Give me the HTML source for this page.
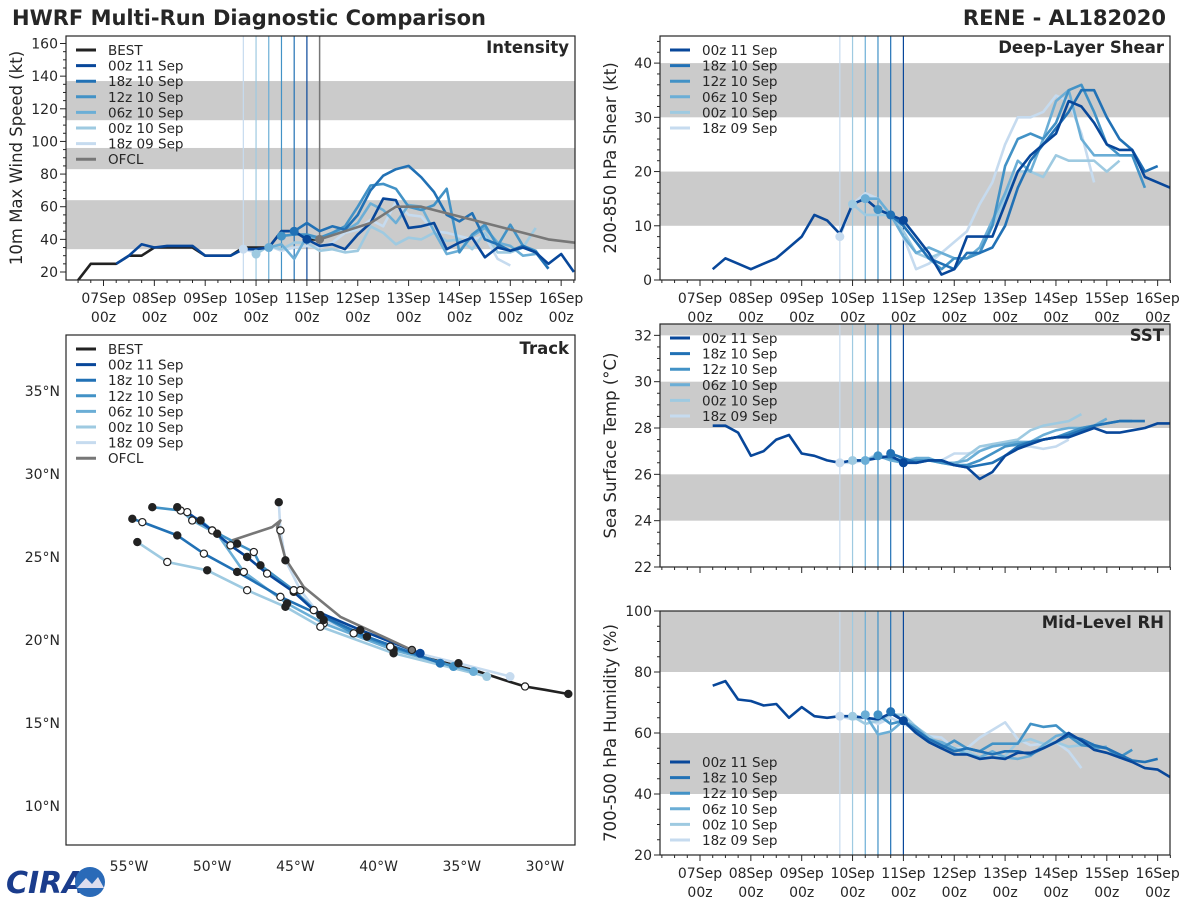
<!DOCTYPE html>
<html><head><meta charset="utf-8"><style>
body{margin:0;background:#fff;width:1200px;height:900px;overflow:hidden}
svg text{font-family:"DejaVu Sans","Liberation Sans",sans-serif;fill:#262626}
</style></head><body>
<svg id="c" width="1200" height="900" xmlns="http://www.w3.org/2000/svg">
<text x="12" y="25" font-size="21" font-weight="bold">HWRF Multi-Run Diagnostic Comparison</text>
<text x="1166" y="25" font-size="21" font-weight="bold" text-anchor="end">RENE - AL182020</text>
<g>
<text x="6" y="893" font-size="30" font-weight="bold" font-style="italic" style="fill:#1a3c8c">CIRA</text>
<circle cx="90" cy="882" r="15" fill="#2a6ab8"/>
<path d="M77 888 L86 878 L92 884 L98 877 L104 888 Z" fill="#dde"/>
</g>
</svg>
<script>
const svg=document.getElementById('c');
const NS='http://www.w3.org/2000/svg';
function mk(tag,at,parent){const e=document.createElementNS(NS,tag);for(const k in at)e.setAttribute(k,at[k]);(parent||svg).appendChild(e);return e;}

// ---------- data ----------
const runNames=['00z 11 Sep','18z 10 Sep','12z 10 Sep','06z 10 Sep','00z 10 Sep','18z 09 Sep'];
const runColors=['#08479a','#2171b5','#4292c6','#6baed6','#9ecae1','#c6dbef'];
const runInitHours=[96,90,84,78,72,66];
const xTickLabels=['07Sep','08Sep','09Sep','10Sep','11Sep','12Sep','13Sep','14Sep','15Sep','16Sep'];

// intensity (kt), 6-hourly from start hour
const bestStart=-12;
const bestVmax=[15,25,25,25,30,30,35,35,35,35,30,30,30,35,35,35,45,45,40,40];
const ofclHours=[102,114,126,138,150,162,174,186,198,210,222,234,246,258];
const ofclVmax=[40,45,50,60,60,56,52,48,44,40,38,36,35,34];
const intStart=[6,90,84,78,72,66];
const intVmax=[
[25,30,37,35,36,36,36,30,30,30,34,34,35,45,45,40,36,37,34,43,50,65,64,47,48,50,34,38,41,29,35,33,35,32,25,31,20],
[45,50,45,48,46,55,70,79,83,85,78,69,55,51,56,40,37,33,36,32,22],
[42,43,43,41,44,48,60,73,74,71,60,58,61,71,32,43,49,36,49,36,33,22],
[35,37,28,42,40,44,45,50,62,58,50,61,60,45,31,33,42,47,38,36,30,31],
[31,36,34,38,38,33,34,32,33,48,44,37,41,40,44,39,40,34,44,32,32,35,47],
[34,32,36,33,35,36,35,38,44,46,52,48,63,55,54,45,44,42,40,42,28,24]];

// shear (kt)
const shrStart=[6,90,84,78,72,66];
const shrVals=[
[2,4,3,2,3,4,6,8,12,11,8.5,14,15,13,12,11,8,5,1,2,8,8,8,14,20,23,25,27,33,32,29,25,24,24,19,18,17],
[12,10,7,4,3,2,5,5,6,10,17,22,25,28,31,35,35,30,26,24,20,21],
[13,12,10,7,4,2,4,4,5,10,21,26,27,26,29,35,36,31,25,23,23,17],
[15,15,12,8,5,6,5,4,4,6,11,16,22,20,26,33,35,26,23,23,23,23],
[14,12,12,12,9,5,4,5,4,4,5,10,15,20,20,19,23,22,22,22,20,22],
[8,14,16,15,12,8,2,3,5,7,9,14,18,25,30,30,31,34,33,27,18]];

// SST (C)
const sstStart=[6,90,84,78,72,66];
const sstVals=[
[28.1,28.1,27.8,26.8,27.0,27.5,27.7,26.9,26.8,26.6,26.5,26.6,26.6,26.7,26.8,26.5,26.5,26.6,26.6,26.4,26.3,25.8,26.1,26.8,27.1,27.3,27.5,27.6,27.6,27.8,28.0,27.8,27.8,27.9,28.0,28.2,28.2],
[26.9,26.7,26.5,26.6,26.6,26.4,26.3,26.4,26.5,26.8,27.2,27.4,27.5,27.6,27.7,27.9,28.1,28.2,28.3,28.3,28.3],
[26.8,26.7,26.6,26.6,26.6,26.5,26.4,26.4,26.6,26.9,27.2,27.3,27.4,27.5,27.6,27.8,28.0,28.1,28.2,28.3,28.3],
[26.6,26.8,26.6,26.5,26.7,26.7,26.5,26.5,26.6,27.0,27.2,27.3,27.4,27.4,27.7,27.9,28.0,28.0,28.1,28.4],
[26.6,26.6,26.8,26.6,26.6,26.6,26.6,26.5,26.4,26.8,27.2,27.3,27.4,27.5,27.9,28.1,28.2,28.3,28.6],
[26.5,26.5,26.6,26.9,26.6,26.6,26.7,26.6,26.6,26.9,26.9,27.0,27.3,27.3,27.2,27.2,27.1,27.2,27.5]];

// RH (%)
const rhStart=[6,90,84,78,72,66];
const rhVals=[
[75.5,77,71,70.5,69,69.5,65,68.5,65.5,65,65.5,65.5,65,64.5,66.5,64,60,57,55,53,53,51.5,52,51.5,53.5,53.5,55,57,60,57.5,54.5,53.5,52,50.5,48.5,48,45.5],
[67,64,61,58,56,54,55,54,53,54,54,53,55,57,59,58,56,55,53,51,50.5,51.5],
[66,63,64,60,57,55,57.5,55,54,56.5,56.5,56.5,63,62,62.5,59,56,55.5,55,52,54.5],
[66,59.5,60.5,64,62,58,57,55,53,52,54,52,51.5,52.5,56,59,60,57,55,55.5],
[65.5,63,64,66,66,62,59,56,55,54,52,52,52.5,57,58,56.5,57,55.5,56,56.5],
[65.5,64.5,65,63,65,63,61,59,58.5,55,55,58.5,61,63.5,58,56,56.5,57,54,48.5]];

// track (lon deg E, lat deg N)
const bestLon=[-28.6,-30,-31.2,-32.5,-34,-35.5,-37,-38.2];
const bestLat=[16.75,17.0,17.2,17.6,18.1,18.5,18.9,19.3];
const trkLon=[
[-37.5,-41.1,-43.9,-45.1,-46.7,-47.9,-48.9,-50.0,-51.5],
[-36.3,-40.7,-45.9,-48.5,-50.5,-52.1,-54.2,-54.8],
[-35.5,-39.3,-41.5,-43.5,-45.1,-47.1,-47.5,-48.5,-50.0,-50.7,-51.9,-53.6],
[-34.3,-39.1,-43.3,-45.5,-48.1,-49.7,-51.2,-52.1],
[-33.5,-39.1,-43.5,-45.6,-47.9,-50.3,-52.7,-54.5],
[-32.1,-35.2,-39.3,-43.3,-44.7,-45.6,-45.9,-46.0]];
const trkLat=[
[19.2,20.6,21.8,22.9,24.0,25.0,25.7,26.6,27.7],
[18.6,20.2,22.6,24.1,25.2,26.3,27.1,27.3],
[18.4,19.6,20.4,21.5,23.0,24.5,25.3,25.8,26.6,27.2,27.8,28.0],
[18.1,19.4,21.0,22.2,24.1,26.4,27.2,28.0],
[17.8,19.2,20.8,22.0,23.0,24.2,24.7,25.9],
[17.8,18.6,19.6,21.2,23.0,24.8,26.6,28.3]];
const ofclLon=[-38.0,-42.3,-44.5,-45.6,-46.1,-45.9,-46.4,-48.8];
const ofclLat=[19.4,21.4,23.2,24.9,26.8,27.2,26.8,26.0];

// ---------- helpers ----------
const DAYPX=50.85;
function makeTimePanel(p){
  const g=mk('g',{});
  
  
  const X=h=>p.x07+h/24*DAYPX;
  const Y=v=>p.B-(v-p.ymin)/(p.ymax-p.ymin)*(p.B-p.T);
  const cp='clip-'+p.name;
  const cl=mk('clipPath',{id:cp},g);mk('rect',{x:p.L,y:p.T,width:p.R-p.L,height:p.B-p.T},cl);
  p.bands.forEach(b=>{const r=mk('rect',{x:p.L,y:Y(Math.min(b[1],p.ymax)),width:p.R-p.L,height:Y(b[0])-Y(Math.min(b[1],p.ymax)),fill:'#cbcbcb'},g);
    });
  runInitHours.forEach((h,i)=>{const l=mk('line',{x1:X(h),x2:X(h),y1:p.T,y2:p.B,stroke:runColors[i],'stroke-width':1.2},g);
    });
  if(p.ofclLine){const l=mk('line',{x1:X(102),x2:X(102),y1:p.T,y2:p.B,stroke:'#777','stroke-width':1.5},g);
    }
  const pg=mk('g',{'clip-path':'url(#'+cp+')'},g);
  const line=(hs,vs,col,nm)=>{const pts=vs.map((v,k)=>X(hs[k]).toFixed(1)+','+Y(v).toFixed(1)).join(' ');
    const e=mk('polyline',{points:pts,fill:'none',stroke:col,'stroke-width':2.6,'stroke-linejoin':'round'},pg);
    };
  if(p.best){line(p.best.map((v,k)=>bestStart+6*k),p.best,'#222','best-line');}
  for(let i=5;i>=0;i--){const vs=p.vals[i];line(vs.map((v,k)=>p.start[i]+6*k),vs,runColors[i],'run-line-'+i);}
  for(let i=5;i>=0;i--){const k=(runInitHours[i]-p.start[i])/6;const v=p.vals[i][k];if(v===undefined)continue;
    const c=mk('circle',{cx:X(runInitHours[i]),cy:Y(v),r:4.5,fill:runColors[i]},pg);
    }
  if(p.ofcl){line(ofclHours,ofclVmax,'#777','ofcl-line');
    const c=mk('circle',{cx:X(102),cy:Y(40),r:4.5,fill:'#777'},pg);}
  const f=mk('rect',{x:p.L,y:p.T,width:p.R-p.L,height:p.B-p.T,fill:'none',stroke:'#262626','stroke-width':1.2},g);
  
  for(let v=Math.ceil(p.ymin/p.minor)*p.minor;v<=p.ymax+1e-6;v+=p.minor){
    const major=Math.abs(v/p.major-Math.round(v/p.major))<1e-6;
    mk('line',{x1:p.L,x2:p.L-(major?6:3),y1:Y(v),y2:Y(v),stroke:'#262626'},g);
    if(major){const t=mk('text',{x:p.L-8,y:Y(v)+5,'font-size':14,'text-anchor':'end'},g);t.textContent=v;
      }}
  for(let h=-24;h<=264;h+=6){const x=X(h);if(x<p.L||x>p.R+0.5)continue;const major=h%24===0;
    mk('line',{x1:x,x2:x,y1:p.B,y2:p.B+(major?6:3),stroke:'#262626'},g);
    if(major&&p.xlabels&&h>=0){const t=mk('text',{x:x,y:p.B+23,'font-size':14,'text-anchor':'middle'},g);t.textContent=xTickLabels[h/24];
      
      const t2=mk('text',{x:x,y:p.B+42,'font-size':14,'text-anchor':'middle'},g);t2.textContent='00z';
      }}
  const yt=mk('text',{transform:`translate(${p.L-44},${(p.T+p.B)/2}) rotate(-90)`,'font-size':16.5,'text-anchor':'middle'},g);yt.textContent=p.ytitle;
  
  const pt=mk('text',{x:p.R-6,y:p.T+17,'font-size':16.5,'font-weight':'bold','text-anchor':'end'},g);pt.textContent=p.title;
  
  legend(g,p.L+10,p.legY,!!p.best);
}
function legend(g,x,y,full){
  const lg=mk('g',{},g);
  const items=[];if(full)items.push(['BEST','#222']);
  runNames.forEach((n,i)=>items.push([n,runColors[i]]));if(full)items.push(['OFCL','#777']);
  items.forEach((it,k)=>{const yy=y+k*15.6;
    mk('line',{x1:x,x2:x+20,y1:yy,y2:yy,stroke:it[1],'stroke-width':3},lg);
    const t=mk('text',{x:x+32,y:yy+5,'font-size':13.5},lg);t.textContent=it[0];
    });
}
makeTimePanel({name:'intensity-panel',L:66,R:575,T:36,B:280,ymin:15.1,ymax:164.6,x07:103.5,major:20,minor:5,
  bands:[[34,64],[83,96],[113,137]],vals:intVmax,start:intStart,best:bestVmax,ofcl:true,ofclLine:true,
  ytitle:'10m Max Wind Speed (kt)',title:'Intensity',xlabels:true,legY:50});
makeTimePanel({name:'shear-panel',L:660,R:1170,T:36,B:280,ymin:0,ymax:45,x07:700,major:10,minor:2,
  bands:[[10,20],[30,40]],vals:shrVals,start:shrStart,ytitle:'200-850 hPa Shear (kt)',title:'Deep-Layer Shear',xlabels:true,legY:50});
makeTimePanel({name:'sst-panel',L:660,R:1170,T:324,B:567,ymin:22,ymax:32.49,x07:700,major:2,minor:0.5,
  bands:[[24,26],[28,30],[32,33]],vals:sstVals,start:sstStart,ytitle:'Sea Surface Temp (°C)',title:'SST',xlabels:false,legY:338});
makeTimePanel({name:'rh-panel',L:660,R:1170,T:611,B:855,ymin:20,ymax:100,x07:700,major:20,minor:5,
  bands:[[40,60],[80,100]],vals:rhVals,start:rhStart,ytitle:'700-500 hPa Humidity (%)',title:'Mid-Level RH',xlabels:true,legY:762});

// ---------- track ----------
(function(){
  const L=66,R=575,T=335,B=845;
  const X=lo=>129+(lo+55)*16.64, Y=la=>391-(la-35)*16.6;
  const g=mk('g',{});
  const cl=mk('clipPath',{id:'clip-trk'},g);mk('rect',{x:L,y:T,width:R-L,height:B-T},cl);
  const pg=mk('g',{'clip-path':'url(#clip-trk)'},g);
  const path=(lons,lats,col,nm)=>{const e=mk('polyline',{points:lons.map((v,k)=>X(v).toFixed(1)+','+Y(lats[k]).toFixed(1)).join(' '),fill:'none',stroke:col,'stroke-width':2.6,'stroke-linejoin':'round'},pg);
    };
  const dot=(lo,la,fill,nm)=>{const c=mk('circle',{cx:X(lo),cy:Y(la),r:3.6,fill:fill,stroke:'#222','stroke-width':1.2},pg);
    };
  path(bestLon,bestLat,'#222','best-track');
  for(let i=5;i>=0;i--)path(trkLon[i],trkLat[i],runColors[i],'run-track-'+i);
  path(ofclLon,ofclLat,'#777','ofcl-track');
  dot(bestLon[0],bestLat[0],'#222','best-dot');dot(bestLon[2],bestLat[2],'#fff','best-dot');
  for(let i=0;i<6;i++){const c=mk('circle',{cx:X(trkLon[i][0]),cy:Y(trkLat[i][0]),r:4.5,fill:runColors[i]},pg);
    
    for(let k=1;k<trkLon[i].length;k++)dot(trkLon[i][k],trkLat[i][k],k%2?'#222':'#fff','track-dot');}
  dot(ofclLon[0],ofclLat[0],'#777','ofcl-dot');
  mk('rect',{x:L,y:T,width:R-L,height:B-T,fill:'none',stroke:'#262626','stroke-width':1.2},g);
  [-55,-50,-45,-40,-35,-30].forEach(lo=>{const t=mk('text',{x:X(lo),y:B+26,'font-size':14,'text-anchor':'middle'},g);t.textContent=(-lo)+'°W';
    });
  [35,30,25,20,15,10].forEach(la=>{const t=mk('text',{x:L-6,y:Y(la)+5,'font-size':14,'text-anchor':'end'},g);t.textContent=la+'°N';
    });
  const pt=mk('text',{x:R-6,y:T+19,'font-size':16.5,'font-weight':'bold','text-anchor':'end'},g);pt.textContent='Track';
  
  legend(g,L+10,349,true);
})();
</script>
</body></html>
